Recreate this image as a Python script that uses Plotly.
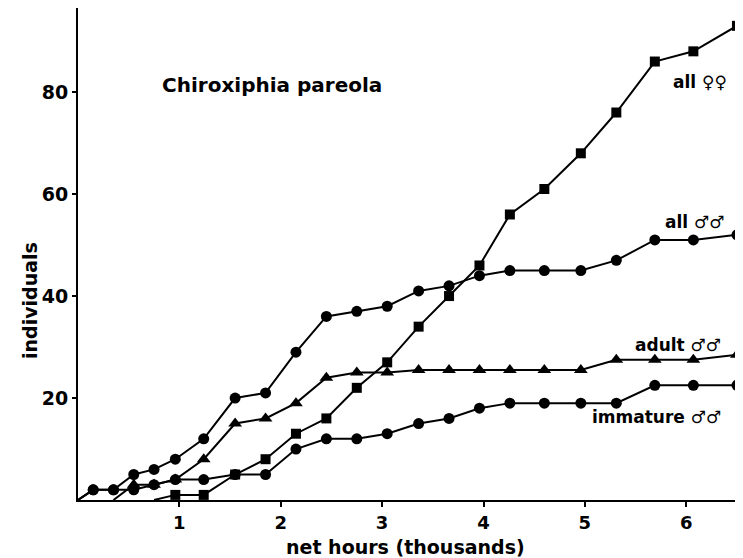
import plotly.graph_objects as go

# thousands of net hours
x_all_m = [0.0, 0.15, 0.35, 0.55, 0.75, 0.96, 1.24, 1.55, 1.85, 2.15, 2.45, 2.75, 3.05,
           3.36, 3.66, 3.96, 4.26, 4.60, 4.96, 5.31, 5.69, 6.07, 6.50]
y_all_m = [0, 2, 2, 5, 6, 8, 12, 20, 21, 29, 36, 37, 38, 41, 42, 44, 45, 45, 45, 47, 51, 51, 52]

x_adult = [0.35, 0.55, 0.75, 0.96, 1.24, 1.55, 1.85, 2.15, 2.45, 2.75, 3.05,
           3.36, 3.66, 3.96, 4.26, 4.60, 4.96, 5.31, 5.69, 6.07, 6.50]
y_adult = [0, 3, 3, 4, 8, 15, 16, 19, 24, 25, 25, 25.5, 25.5, 25.5, 25.5, 25.5, 25.5, 27.5, 27.5, 27.5, 28.5]

x_imm = [0.0, 0.15, 0.35, 0.55, 0.75, 0.96, 1.24, 1.55, 1.85, 2.15, 2.45, 2.75, 3.05,
         3.36, 3.66, 3.96, 4.26, 4.60, 4.96, 5.31, 5.69, 6.07, 6.50]
y_imm = [0, 2, 2, 2, 3, 4, 4, 5, 5, 10, 12, 12, 13, 15, 16, 18, 19, 19, 19, 19, 22.5, 22.5, 22.5]

x_fem = [0.75, 0.96, 1.24, 1.55, 1.85, 2.15, 2.45, 2.75, 3.05, 3.36, 3.66, 3.96,
         4.26, 4.60, 4.96, 5.31, 5.69, 6.07, 6.50]
y_fem = [0, 1, 1, 5, 8, 13, 16, 22, 27, 34, 40, 46, 56, 61, 68, 76, 86, 88, 93]

x_ticks = [1, 2, 3, 4, 5, 6]
y_ticks = [20, 40, 60, 80]

FONT = "DejaVu Sans"
fig = go.Figure()

def add(xs, ys, symbol, size, hide_first):
    sizes = [size] * len(xs)
    if hide_first:
        sizes[0] = 0
    fig.add_trace(go.Scatter(
        x=xs, y=ys, mode="lines+markers",
        line=dict(color="black", width=2),
        marker=dict(symbol=symbol, size=sizes, color="black", opacity=1, line=dict(width=0)),
        showlegend=False, cliponaxis=False))

add(x_imm, y_imm, "circle", 11, True)
add(x_adult, y_adult, "triangle-up", 12, True)
add(x_all_m, y_all_m, "circle", 11, True)
add(x_fem, y_fem, "square", 10, True)

labels = [
    ("Chiroxiphia pareola", 0.81, 81.4, "left", 20),
    ("all ♀♀", 6.14, 82.0, "center", 17),
    ("all ♂♂", 6.09, 54.5, "center", 17),
    ("adult ♂♂", 5.92, 30.4, "center", 17),
    ("immature ♂♂", 5.71, 16.3, "center", 17),
]
for t, x, y, anc, sz in labels:
    fig.add_annotation(x=x, y=y, text=t, showarrow=False, xanchor=anc, yanchor="middle",
                       font=dict(family=FONT, size=sz, color="black", weight="bold"))

# page-pixel geometry of the plot area (browser body has an 8px margin)
OFF = 8
L, R = 78, 740
T, B = 8, 500
fig.add_annotation(xref="paper", yref="paper", x=(405 - L) / (R - L), y=-(547 - B) / (B - T),
                   text="net hours (thousands)", showarrow=False, xanchor="center", yanchor="middle",
                   font=dict(family=FONT, size=19, color="black", weight="bold"))
fig.add_annotation(xref="paper", yref="paper", x=-(L - 30) / (R - L), y=(B - 300) / (B - T),
                   text="individuals", showarrow=False, textangle=-90, xanchor="center", yanchor="middle",
                   font=dict(family=FONT, size=19, color="black", weight="bold"))

W, H = 743 - OFF, 558 - OFF
fig.update_layout(
    width=W, height=H,
    margin=dict(l=L - OFF, r=W - (R - OFF), t=T - OFF, b=H - (B - OFF), pad=0),
    paper_bgcolor="white", plot_bgcolor="white",
    xaxis=dict(range=[0, 6.53], tickvals=x_ticks, ticktext=[str(v) for v in x_ticks],
               showgrid=False, zeroline=False, showline=True, linecolor="black", linewidth=2,
               ticks="outside", ticklen=5, tickwidth=2, tickcolor="black",
               tickfont=dict(family=FONT, size=18, color="black", weight="bold")),
    yaxis=dict(range=[0, 96.5], tickvals=y_ticks, ticktext=[str(v) for v in y_ticks],
               showgrid=False, zeroline=False, showline=True, linecolor="black", linewidth=2,
               ticks="outside", ticklen=4, tickwidth=2, tickcolor="black",
               tickfont=dict(family=FONT, size=19, color="black", weight="bold")),
)
fig.write_html("out.html")
